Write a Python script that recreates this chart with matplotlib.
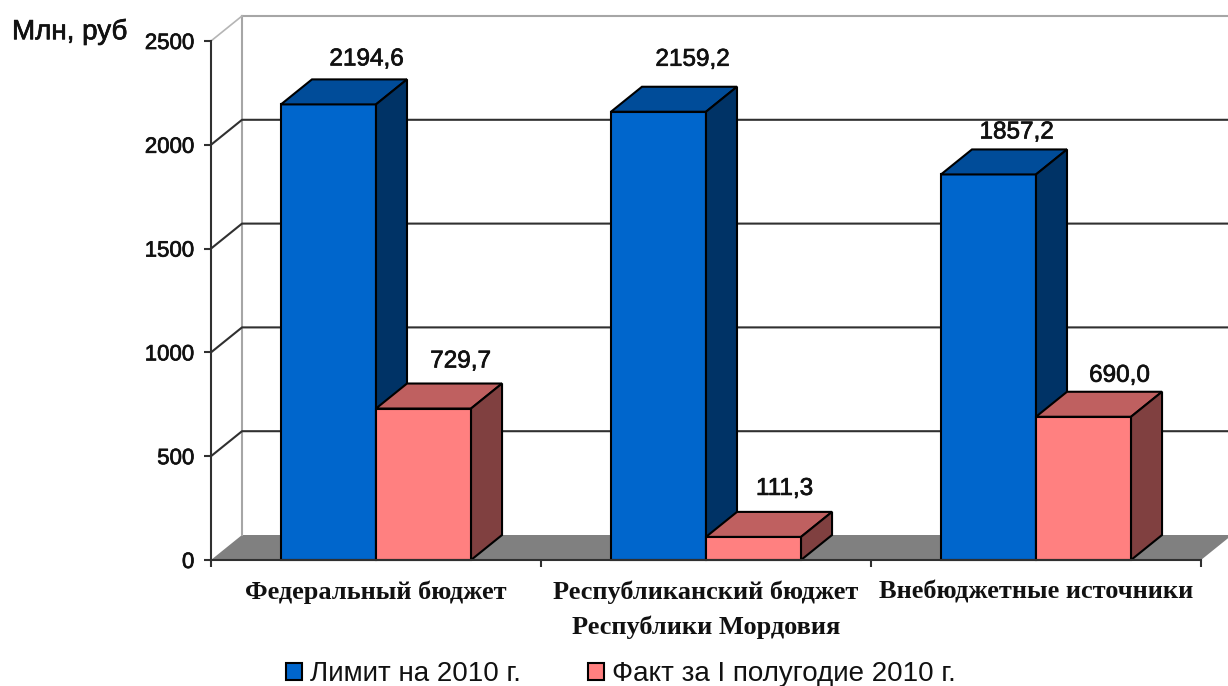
import matplotlib
matplotlib.use("Agg")
import matplotlib.patheffects as pe
import matplotlib.pyplot as plt
from matplotlib.patches import Patch, Polygon

categories = ["Федеральный бюджет", "Республиканский бюджет\nРеспублики Мордовия", "Внебюджетные источники"]
limit_2010 = [2194.6, 2159.2, 1857.2]
fact_h1_2010 = [729.7, 111.3, 690.0]
limit_labels = ["2194,6", "2159,2", "1857,2"]
fact_labels = ["729,7", "111,3", "690,0"]
y_ticks = [0, 500, 1000, 1500, 2000, 2500]
series_names = ["Лимит на 2010 г.", "Факт за I полугодие 2010 г."]

W, H = 1228, 686
LEFT, RIGHT, TOP, BOTTOM = 211, 1201, 41, 560
DX = 31 / 330
DY = 25 / 519 * 2500
BAR_START = 0.212
BAR_W = 0.288
LINE = "#303030"
TEXT = "#111111"
THICK = [pe.withStroke(linewidth=0.5, foreground=TEXT)]

# label offsets from the bar's top face, in pixels
limit_offsets = [(38, 45), (34, 52), (28, 42)]
fact_offsets = [(37, 47), (31, 48), (36, 41)]


def draw_bar(ax, x, value, front, top, side):
    ax.bar(x, value, width=BAR_W, align="edge", color=front, edgecolor="black", linewidth=1.5, zorder=4 + x, clip_on=False)
    r = x + BAR_W
    ax.add_patch(Polygon([(x, value), (r, value), (r + DX, value + DY), (x + DX, value + DY)],
                         facecolor=top, edgecolor="black", linewidth=1.5, zorder=4 + x, clip_on=False))
    ax.add_patch(Polygon([(r, 0), (r + DX, DY), (r + DX, value + DY), (r, value)],
                         facecolor=side, edgecolor="black", linewidth=1.5, zorder=4 + x, clip_on=False))


plt.rcParams["font.family"] = ["Liberation Sans", "DejaVu Sans"]
fig = plt.figure(figsize=(W / 100, H / 100), dpi=100, facecolor="white")
ax = fig.add_axes([LEFT / W, 1 - BOTTOM / H, (RIGHT - LEFT) / W, (BOTTOM - TOP) / H])
ax.patch.set_alpha(0)
ax.set_xlim(0, 3)
ax.set_ylim(0, 2500)

# back wall and floor
ax.add_patch(Polygon([(0, 0), (DX, DY), (3 + DX, DY), (3, 0)], facecolor="#808080", edgecolor="none", zorder=1, clip_on=False))
ax.plot([DX, DX], [DY, 2500 + DY], color="#a6a6a6", lw=1.5, zorder=1, clip_on=False)
ax.plot([DX, 3 + DX], [2500 + DY, 2500 + DY], color="#a6a6a6", lw=1.5, zorder=1, clip_on=False)
ax.plot([0, DX], [2500, 2500 + DY], color="#b5b5b5", lw=1.2, zorder=1, clip_on=False)
for tick in y_ticks[1:-1]:
    ax.plot([0, DX, 3 + DX], [tick, tick + DY, tick + DY], color=LINE, lw=1.5, zorder=2, clip_on=False)

for i in range(3):
    x = i + BAR_START
    draw_bar(ax, x, limit_2010[i], "#0066cc", "#004c99", "#003366")
    draw_bar(ax, x + BAR_W, fact_h1_2010[i], "#ff8080", "#bf6060", "#804040")
    for value, text, bar_x, off in [
        (limit_2010[i], limit_labels[i], x, limit_offsets[i]),
        (fact_h1_2010[i], fact_labels[i], x + BAR_W, fact_offsets[i]),
    ]:
        ax.annotate(text, xy=(bar_x + BAR_W / 2, value), xytext=(off[0] * 0.72, off[1] * 0.72),
                    textcoords="offset points", ha="center", va="center", fontsize=17.5, color=TEXT,
                    zorder=20, path_effects=THICK)

for name in ("top", "right"):
    ax.spines[name].set_visible(False)
for name in ("left", "bottom"):
    ax.spines[name].set_color(LINE)
    ax.spines[name].set_linewidth(1.5)
    ax.spines[name].set_zorder(10)

ax.set_yticks(y_ticks)
ax.set_yticklabels([str(t) for t in y_ticks], fontsize=16, color=TEXT, path_effects=THICK)
ax.tick_params(axis="y", length=5, width=1.5, color=LINE, pad=7)
ax.set_xticks([0, 1, 2, 3])
ax.set_xticklabels([])
ax.tick_params(axis="x", length=5, width=1.5, color=LINE)
ax.set_xticks([0.5, 1.5, 2.5], minor=True)
ax.set_xticklabels(categories, minor=True, family="Liberation Serif", fontweight="bold", fontsize=19, color=TEXT, linespacing=1.6)
ax.tick_params(axis="x", which="minor", length=0, pad=15)

fig.text(12 / W, 1 - 32 / H, "Млн, руб", fontsize=20, color=TEXT, va="center", ha="left", path_effects=THICK)

handles = [
    Patch(facecolor="#0066cc", edgecolor="black", linewidth=1.5),
    Patch(facecolor="#ff8080", edgecolor="black", linewidth=1.5),
]
fig.legend(handles, series_names, ncol=2, frameon=False, fontsize=20, loc="center left",
           bbox_to_anchor=(286 / W, 1 - 674 / H), borderpad=0, borderaxespad=0, handlelength=0.58,
           handleheight=0.58, handletextpad=0.29, columnspacing=2.4, labelcolor=TEXT)

fig.savefig("out.png", dpi=100)
